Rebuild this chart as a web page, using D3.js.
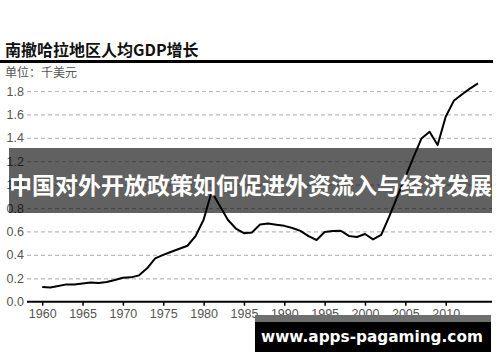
<!DOCTYPE html>
<html><head><meta charset="utf-8">
<script src="https://cdn.jsdelivr.net/npm/d3@7"></script>
<style>
html,body{margin:0;padding:0;background:#fff;}
svg{display:block;}
</style></head>
<body>
<svg id="c" width="500" height="362"></svg>
<script>
const title = "南撤哈拉地区人均GDP增长";
const unitLabel = "单位：千美元";
const bannerText = "中国对外开放政策如何促进外资流入与经济发展";
const watermarkText = "www.apps-pagaming.com";

const years = d3.range(1960, 2015);
const gdpPerCapita = [
  0.125, 0.122, 0.135, 0.148, 0.146, 0.156, 0.165, 0.160, 0.168, 0.185,
  0.205, 0.208, 0.225, 0.285, 0.370, 0.400, 0.427, 0.452, 0.478, 0.560,
  0.700, 0.940, 0.820, 0.700, 0.625, 0.585, 0.592, 0.660, 0.668, 0.658,
  0.648, 0.630, 0.605, 0.560, 0.527, 0.595, 0.603, 0.606, 0.562, 0.553,
  0.578, 0.532, 0.570, 0.726, 0.897, 1.065, 1.233, 1.395, 1.452, 1.338,
  1.580, 1.716, 1.770, 1.820, 1.865
];
const yTicks = [0, 0.2, 0.4, 0.6, 0.8, 1.0, 1.2, 1.4, 1.6, 1.8];
const xTicks = [1960, 1965, 1970, 1975, 1980, 1985, 1990, 1995, 2000, 2005, 2010];

const svg = d3.select("#c");
const x = d3.scaleLinear().domain([1960, 2010]).range([42.2, 445.7]);
const y = d3.scaleLinear().domain([0, 1.8]).range([301.7, 91]);
const plotLeft = 27, plotRight = 492;

// title
svg.append("text").attr("x", 5).attr("y", 56)
  .attr("font-family", "'Noto Sans CJK SC', sans-serif").attr("font-weight", "bold")
  .attr("font-size", 16).attr("fill", "#111").text(title);
svg.append("rect").attr("x", 0).attr("y", 60).attr("width", 493).attr("height", 3).attr("fill", "#000");
svg.append("text").attr("x", 5).attr("y", 76.5)
  .attr("font-family", "'Noto Sans CJK SC', sans-serif")
  .attr("font-size", 12).attr("fill", "#555").text(unitLabel);

// y grid + labels
const yAxis = svg.append("g").attr("transform", `translate(${plotLeft},0)`)
  .call(d3.axisLeft(y).tickValues(yTicks).tickFormat(d3.format(".1f")).tickSize(0).tickPadding(3));
yAxis.select(".domain").remove();
yAxis.selectAll("text").attr("font-family", "Liberation Sans, Arial, sans-serif")
  .attr("font-size", 12.5).attr("fill", "#555");
yAxis.selectAll(".tick").filter(d => d > 0).append("line")
  .attr("x1", 0).attr("x2", plotRight - plotLeft)
  .attr("stroke", "#bbb").attr("stroke-width", 1.2).attr("stroke-dasharray", "4,3");

// x axis
const xAxis = svg.append("g").attr("transform", `translate(0,${y(0)})`)
  .call(d3.axisBottom(x).tickValues(xTicks).tickFormat(d3.format("d")).tickSize(4).tickPadding(3).tickSizeOuter(0));
xAxis.select(".domain").attr("d", `M${plotLeft},0H${plotRight}`).attr("stroke", "#000").attr("stroke-width", 2);
xAxis.selectAll(".tick line").attr("stroke", "#000").attr("stroke-width", 1.5);
xAxis.selectAll("text").attr("font-family", "Liberation Sans, Arial, sans-serif")
  .attr("font-size", 12.5).attr("fill", "#555");

// line
const line = d3.line().x((d, i) => x(years[i])).y(d => y(d));
svg.append("path").datum(gdpPerCapita).attr("d", line)
  .attr("fill", "none").attr("stroke", "#000").attr("stroke-width", 2).attr("stroke-linejoin", "round");

// banner overlay
svg.append("rect").attr("x", 9).attr("y", 148).attr("width", 483).attr("height", 65)
  .attr("fill", "rgba(0,0,0,0.62)");
svg.append("text").attr("x", 250.5).attr("y", 193.5).attr("text-anchor", "middle")
  .attr("font-family", "'Noto Sans CJK SC', sans-serif").attr("font-weight", "bold")
  .attr("font-size", 23).attr("fill", "#fff").text(bannerText);

// watermark
svg.append("rect").attr("x", 255).attr("y", 315).attr("width", 236).attr("height", 7).attr("fill", "#6f6f6f");
svg.append("rect").attr("x", 255).attr("y", 322).attr("width", 236).attr("height", 30).attr("fill", "#000");
svg.append("text").attr("x", 372).attr("y", 342).attr("text-anchor", "middle")
  .attr("font-family", "'DejaVu Sans', sans-serif").attr("font-weight", "bold")
  .attr("font-size", 15.3).attr("fill", "#fff").text(watermarkText);
</script>
</body></html>
